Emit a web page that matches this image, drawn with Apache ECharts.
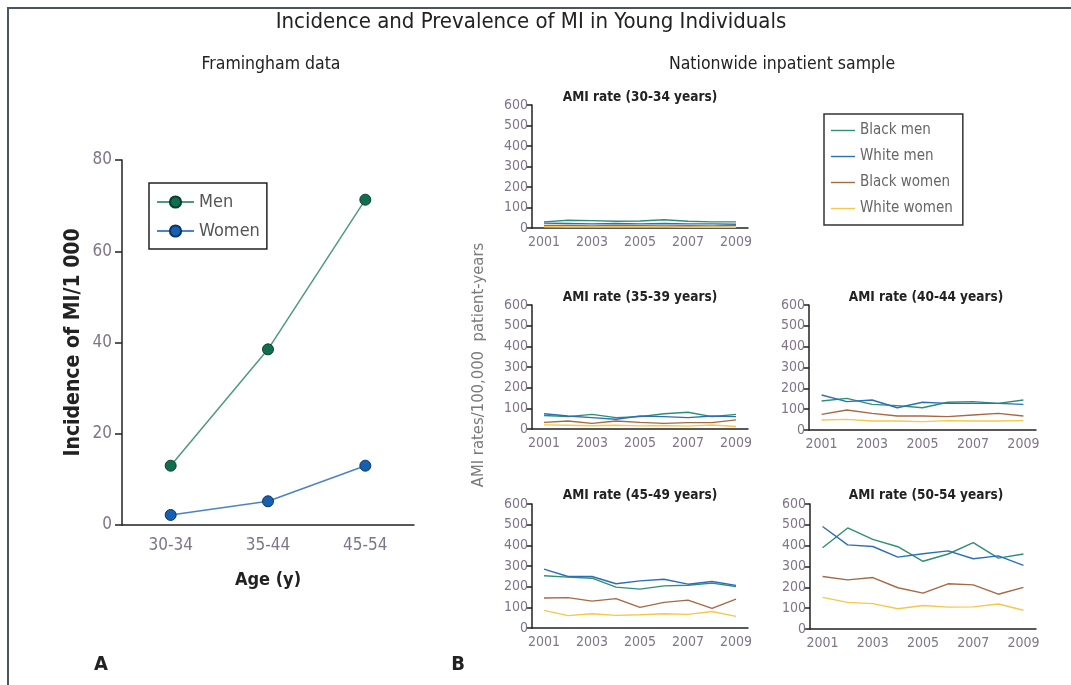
<!DOCTYPE html>
<html><head><meta charset="utf-8">
<script src="https://cdn.jsdelivr.net/npm/echarts/dist/echarts.min.js"></script>
<style>html,body{margin:0;padding:0;background:#fff}#c{width:1071px;height:685px}</style>
</head><body><div id="c"></div>
<script>
// ---- Data ----
const ageGroups = ['30-34', '35-44', '45-54'];
const menIncidence = [13, 38.5, 71.3];
const womenIncidence = [2.2, 5.2, 13];

const years = ['2001','2002','2003','2004','2005','2006','2007','2008','2009'];
const panelTitles = ['AMI rate (30-34 years)', 'AMI rate (35-39 years)', 'AMI rate (40-44 years)', 'AMI rate (45-49 years)', 'AMI rate (50-54 years)'];
const seriesNames = ['Black men', 'White men', 'Black women', 'White women'];

const blackMen30 = [30, 38, 36, 33, 34, 40, 33, 30, 30];
const whiteMen30 = [24, 22, 20, 22, 20, 22, 20, 20, 18];
const blackWomen30 = [12, 12, 10, 12, 11, 10, 11, 10, 12];
const whiteWomen30 = [6, 5, 5, 5, 6, 5, 4, 5, 4];

const blackMen35 = [65, 60, 71, 55, 60, 74, 81, 60, 71];
const whiteMen35 = [74, 63, 55, 47, 63, 60, 55, 63, 60];
const blackWomen35 = [32, 39, 27, 39, 32, 27, 31, 31, 44];
const whiteWomen35 = [20, 18, 16, 18, 15, 17, 14, 19, 12];

const blackMen40 = [139, 152, 123, 117, 107, 133, 136, 128, 144];
const whiteMen40 = [168, 136, 144, 107, 133, 128, 128, 128, 123];
const blackWomen40 = [75, 96, 80, 67, 67, 64, 72, 80, 67];
const whiteWomen40 = [48, 51, 43, 43, 40, 45, 43, 43, 45];

const blackMen45 = [253, 246, 241, 198, 188, 204, 207, 217, 201];
const whiteMen45 = [285, 249, 249, 214, 228, 236, 212, 225, 206];
const blackWomen45 = [145, 147, 130, 142, 100, 124, 135, 95, 140];
const whiteWomen45 = [85, 60, 69, 61, 64, 69, 66, 80, 56];

const blackMen50 = [390, 485, 430, 395, 325, 360, 415, 340, 360];
const whiteMen50 = [492, 404, 396, 345, 361, 375, 337, 351, 305];
const blackWomen50 = [252, 236, 247, 198, 172, 217, 212, 167, 200];
const whiteWomen50 = [152, 128, 122, 97, 113, 105, 106, 120, 90];

const panelData = [
  [blackMen30, whiteMen30, blackWomen30, whiteWomen30],
  [blackMen35, whiteMen35, blackWomen35, whiteWomen35],
  [blackMen40, whiteMen40, blackWomen40, whiteWomen40],
  [blackMen45, whiteMen45, blackWomen45, whiteWomen45],
  [blackMen50, whiteMen50, blackWomen50, whiteWomen50]
];

// ---- Styles ----
const FONT = "'DejaVu Sans Condensed', 'Liberation Sans Narrow', 'Open Sans', sans-serif";
const TICK_COLOR = '#7f7488';
const lineColors = ['#2f8f73', '#2b6fb8', '#a56a42', '#f4c84a'];
const LINE_ICON = 'path://M0,0 M0,6.3 L24,6.3 L24,7.7 L0,7.7 Z M24,14';

const panelGrids = [
  {left: 532, top: 105, width: 216, height: 123},
  {left: 532, top: 305, width: 216, height: 124},
  {left: 809, top: 305, width: 227, height: 125},
  {left: 532, top: 504, width: 216, height: 124},
  {left: 810, top: 504, width: 226, height: 125}
];

const grids = [{left: 122, top: 160, width: 292, height: 365}];
const xAxes = [{
  gridIndex: 0, type: 'category', data: ageGroups, boundaryGap: true,
  axisLine: {lineStyle: {color: '#222', width: 1.5}}, axisTick: {show: false},
  axisLabel: {color: TICK_COLOR, fontSize: 17, fontFamily: FONT, margin: 12},
  name: 'Age (y)', nameLocation: 'middle', nameGap: 46,
  nameTextStyle: {fontSize: 18, fontWeight: 'bold', color: '#222', fontFamily: FONT}
}];
const yAxes = [{
  gridIndex: 0, type: 'value', min: 0, max: 80, interval: 20,
  axisLine: {show: true, lineStyle: {color: '#222', width: 1.5}},
  axisTick: {show: true, length: 7, lineStyle: {color: '#222', width: 1.5}},
  splitLine: {show: false},
  axisLabel: {color: TICK_COLOR, fontSize: 17, fontFamily: FONT, margin: 10},
  name: 'Incidence of MI/1 000', nameLocation: 'middle', nameGap: 38, nameRotate: 90,
  nameTextStyle: {fontSize: 21, fontWeight: 'bold', color: '#222', fontFamily: FONT}
}];
const series = [
  {name: 'Men', type: 'line', xAxisIndex: 0, yAxisIndex: 0, data: menIncidence,
   symbol: 'circle', symbolSize: 11, color: '#4d9b7d',
   lineStyle: {color: '#4d9b7d', width: 1.5},
   itemStyle: {color: '#0f6e50', borderColor: '#0a3d2c', borderWidth: 1}},
  {name: 'Women', type: 'line', xAxisIndex: 0, yAxisIndex: 0, data: womenIncidence,
   symbol: 'circle', symbolSize: 11, color: '#4a84c4',
   lineStyle: {color: '#4a84c4', width: 1.5},
   itemStyle: {color: '#1560b0', borderColor: '#0b3566', borderWidth: 1}}
];

panelGrids.forEach((g, i) => {
  grids.push(g);
  const gi = i + 1;
  xAxes.push({
    gridIndex: gi, type: 'category', data: years, boundaryGap: true,
    axisLine: {lineStyle: {color: '#222', width: 1.5}}, axisTick: {show: false},
    axisLabel: {color: TICK_COLOR, fontSize: 14, fontFamily: FONT, margin: 7, interval: 1}
  });
  yAxes.push({
    gridIndex: gi, type: 'value', min: 0, max: 600, interval: 100,
    axisLine: {show: true, lineStyle: {color: '#222', width: 1.5}},
    axisTick: {show: true, length: 6, lineStyle: {color: '#222', width: 1.5}},
    splitLine: {show: false},
    axisLabel: {color: TICK_COLOR, fontSize: 14, fontFamily: FONT, margin: 4}
  });
  panelData[i].forEach((vals, k) => {
    series.push({
      name: seriesNames[k], type: 'line', xAxisIndex: gi, yAxisIndex: gi,
      data: vals, symbol: 'none', color: lineColors[k],
      lineStyle: {color: lineColors[k], width: 1.4}
    });
  });
});

const graphic = [
  {type: 'rect', shape: {x: 8, y: 8, width: 1100, height: 700}, style: {fill: 'none', stroke: '#4b5365', lineWidth: 2}, silent: true},
  {type: 'text', style: {text: 'Incidence and Prevalence of MI in Young Individuals', x: 531, y: 22, textAlign: 'center', textVerticalAlign: 'middle', font: '22px ' + FONT, fill: '#222'}},
  {type: 'text', style: {text: 'Framingham data', x: 271, y: 64, textAlign: 'center', textVerticalAlign: 'middle', font: '17.5px ' + FONT, fill: '#222'}},
  {type: 'text', style: {text: 'Nationwide inpatient sample', x: 782, y: 64, textAlign: 'center', textVerticalAlign: 'middle', font: '17.5px ' + FONT, fill: '#222'}},
  {type: 'text', style: {text: 'A', x: 101, y: 665, textAlign: 'center', textVerticalAlign: 'middle', font: 'bold 20px ' + FONT, fill: '#222'}},
  {type: 'text', style: {text: 'B', x: 458, y: 665, textAlign: 'center', textVerticalAlign: 'middle', font: 'bold 20px ' + FONT, fill: '#222'}},
  {type: 'text', rotation: Math.PI / 2, x: 479, y: 365,
   style: {text: 'AMI rates/100,000  patient-years', x: 0, y: 0, textAlign: 'center', textVerticalAlign: 'middle', font: '16.5px ' + FONT, fill: '#7a7a7a'}}
];
const panelTitlePos = [[640, 97], [640, 297], [926, 297], [640, 495], [926, 495]];
panelTitles.forEach((t, i) => {
  graphic.push({type: 'text', style: {text: t, x: panelTitlePos[i][0], y: panelTitlePos[i][1], textAlign: 'center', textVerticalAlign: 'middle', font: 'bold 13.5px ' + FONT, fill: '#222'}});
});

const chart = echarts.init(document.getElementById('c'));
chart.setOption({
  animation: false,
  backgroundColor: '#fff',
  grid: grids,
  xAxis: xAxes,
  yAxis: yAxes,
  series: series,
  graphic: graphic,
  legend: [
    {data: ['Men', 'Women'], orient: 'vertical', left: 149, top: 183,
     padding: [10, 7, 9, 7], itemGap: 11, itemWidth: 37, itemHeight: 14,
     borderColor: '#222', borderWidth: 1.5,
     textStyle: {fontSize: 18, color: '#555', fontFamily: FONT}},
    {data: seriesNames.map(n => ({name: n, icon: LINE_ICON})), orient: 'vertical', left: 824, top: 114,
     padding: [9, 10, 9, 7], itemGap: 11, itemWidth: 24, itemHeight: 14,
     itemStyle: {borderWidth: 0},
     borderColor: '#333', borderWidth: 1.5,
     textStyle: {fontSize: 15, color: '#666', fontFamily: FONT}}
  ]
});
</script></body></html>
